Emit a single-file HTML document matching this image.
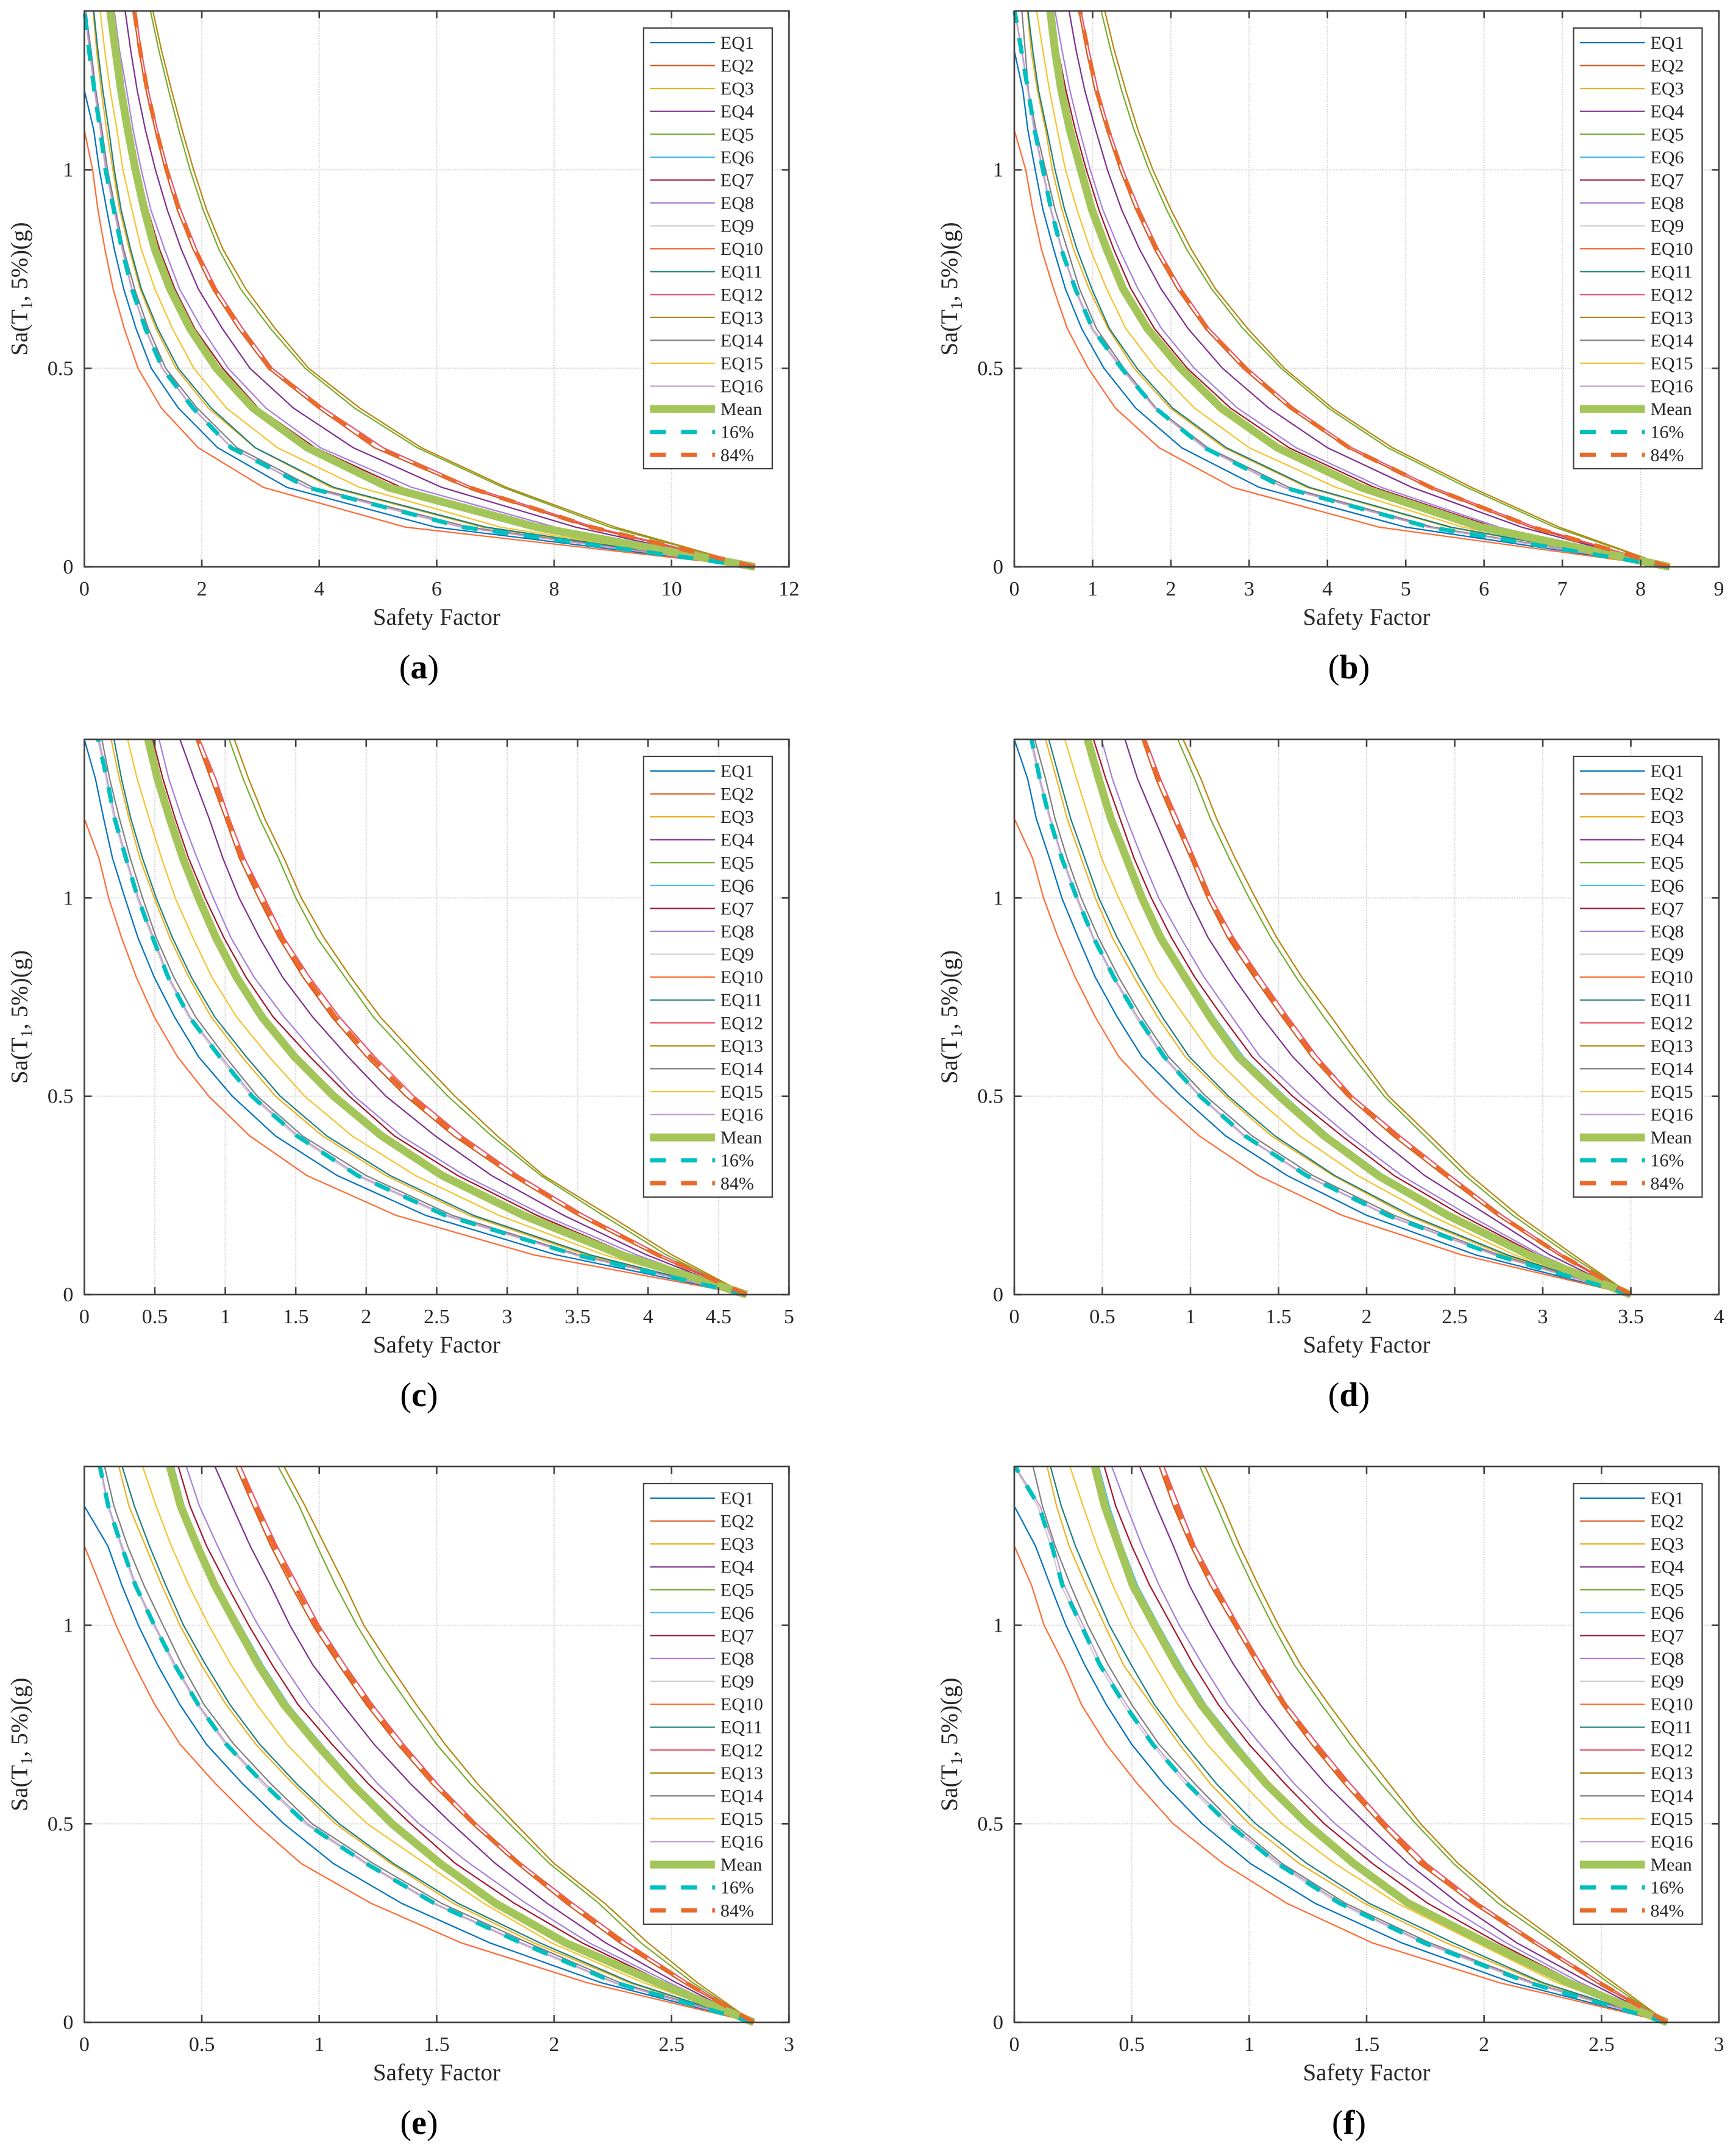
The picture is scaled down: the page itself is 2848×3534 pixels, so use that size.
<!DOCTYPE html>
<html lang="en">
<head>
<meta charset="utf-8">
<title>Safety factor curves</title>
<style>
html,body{margin:0;padding:0;background:#fff;width:2848px;height:3534px;overflow:hidden}
svg{display:block}
text{font-family:"Liberation Serif",serif;fill:#262626}
</style>
</head>
<body>
<svg id="figure" xmlns="http://www.w3.org/2000/svg" width="2848" height="3534" viewBox="0 0 2848 3534"></svg>
<script>
const saLevels = [0,0.1,0.2,0.3,0.4,0.5,0.6,0.7,0.8,0.9,1,1.1,1.2,1.3,1.4];
const seriesLabels = ['EQ1','EQ2','EQ3','EQ4','EQ5','EQ6','EQ7','EQ8','EQ9','EQ10','EQ11','EQ12','EQ13','EQ14','EQ15','EQ16','Mean','16%','84%'];
const saTicks = [0,0.5,1];
const xTicksA = [0,2,4,6,8,10,12];
const xTicksB = [0,1,2,3,4,5,6,7,8,9];
const xTicksC = [0,0.5,1,1.5,2,2.5,3,3.5,4,4.5,5];
const xTicksD = [0,0.5,1,1.5,2,2.5,3,3.5,4];
const xTicksE = [0,0.5,1,1.5,2,2.5,3];
const xTicksF = [0,0.5,1,1.5,2,2.5,3];

const panelASeries = [
[11.42,5.98,3.45,2.27,1.6,1.14,.88,.67,.51,.38,.255,.16,0,0,0],
[11.42,8.6,6.51,4.94,3.98,3.13,2.62,2.18,1.85,1.58,1.375,1.205,1.05,.93,.833],
[11.42,6.78,4.2,2.91,2.11,1.56,1.22,.95,.764,.6,.486,.38,.287,.21,.148],
[11.42,8.37,6.09,4.58,3.56,2.82,2.35,1.94,1.65,1.41,1.21,1.04,.9,.79,.694],
[11.42,8.95,7.13,5.67,4.6,3.76,3.17,2.66,2.29,2.02,1.8,1.61,1.435,1.27,1.125],
[11.42,7.6,5.12,3.78,2.87,2.27,1.82,1.48,1.22,1.04,.885,.755,.64,.545,.45],
[11.42,7.8,5.4,3.93,2.96,2.36,1.88,1.54,1.28,1.08,.92,.79,.67,.57,.475],
[11.42,8.02,5.58,4.02,3.09,2.45,2,1.62,1.366,1.13,.97,.83,.72,.6,.51],
[11.42,6.45,3.78,2.5,1.84,1.32,1.03,.8,.64,.5,.36,.27,.17,.085,.005],
[11.42,5.47,3.05,1.94,1.31,.915,.68,.49,.35,.23,.14,0,0,0,0],
[11.42,6.84,4.25,2.91,2.16,1.6,1.25,.97,.787,.625,.51,.417,.315,.23,.16],
[11.42,8.68,6.6,5.09,4.07,3.2,2.7,2.25,1.91,1.64,1.425,1.245,1.09,.97,.87],
[11.42,9.04,7.19,5.74,4.69,3.82,3.25,2.75,2.36,2.08,1.86,1.665,1.485,1.315,1.167],
[11.42,6.55,3.89,2.6,1.92,1.385,1.09,.856,.67,.53,.395,.3,.195,.115,.02],
[11.42,7.09,4.69,3.29,2.42,1.865,1.5,1.2,.97,.81,.657,.555,.44,.347,.27],
[11.42,6.42,3.8,2.51,1.85,1.33,1.04,.81,.65,.51,.37,.28,.176,.09,.01],
[11.42,7.7,5.18,3.8,2.87,2.25,1.8,1.46,1.2,1.02,.87,.74,.625,.532,.44],
[11.42,6.45,3.8,2.5,1.85,1.33,1.04,.81,.64,.5,.36,.27,.17,.08,.005],
[11.42,8.64,6.55,5,4.02,3.16,2.66,2.21,1.88,1.61,1.4,1.225,1.07,.95,.85]
];
const panelBSeries = [
[8.37,5,3.13,2.137,1.55,1.146,.86,.653,.503,.365,.267,.174,.11,0,0],
[8.37,6.59,5.29,4.26,3.51,2.92,2.44,2.08,1.79,1.55,1.35,1.18,1.03,.92,.826],
[8.37,5.55,3.74,2.68,1.99,1.53,1.2,.955,.757,.608,.486,.4,.295,.215,.167],
[8.37,6.48,5.08,4,3.25,2.66,2.22,1.875,1.6,1.37,1.19,1.04,.9,.79,.7],
[8.37,6.9,5.78,4.77,4.01,3.41,2.92,2.52,2.2,1.944,1.72,1.53,1.37,1.233,1.11],
[8.37,6,4.46,3.39,2.67,2.15,1.72,1.41,1.2,1.01,.87,.73,.62,.54,.47],
[8.37,6.13,4.6,3.51,2.76,2.21,1.79,1.49,1.27,1.08,.92,.78,.66,.56,.49],
[8.37,6.19,4.69,3.6,2.85,2.3,1.88,1.58,1.34,1.13,.97,.833,.71,.61,.52],
[8.37,5.28,3.43,2.42,1.79,1.36,.98,.77,.6,.46,.355,.25,.17,.09,.005],
[8.37,4.66,2.79,1.85,1.29,.945,.677,.503,.347,.236,.146,0,0,0,0],
[8.37,5.58,3.77,2.71,2.02,1.567,1.215,.99,.8,.642,.52,.417,.31,.236,.174],
[8.37,6.65,5.35,4.31,3.57,2.98,2.49,2.135,1.84,1.6,1.39,1.215,1.07,.955,.85],
[8.37,6.96,5.84,4.83,4.06,3.45,2.98,2.57,2.26,2,1.77,1.58,1.424,1.278,1.156],
[8.37,5.35,3.51,2.47,1.81,1.4,1.05,.833,.677,.52,.4,.278,.18,.139,.097],
[8.37,5.73,4.11,3,2.3,1.81,1.424,1.18,.97,.8,.653,.55,.45,.365,.285],
[8.37,5.29,3.45,2.44,1.8,1.377,1,.78,.608,.47,.365,.26,.18,.097,.007],
[8.37,5.96,4.43,3.36,2.64,2.125,1.7,1.39,1.18,.99,.85,.71,.6,.52,.46],
[8.37,5.3,3.44,2.43,1.8,1.37,1,.78,.6,.47,.365,.26,.175,.09,.005],
[8.37,6.62,5.32,4.28,3.54,2.95,2.46,2.11,1.815,1.575,1.37,1.2,1.05,.94,.84]
];
const panelCSeries = [
[4.7,3.35,2.42,1.795,1.356,1.05,.81,.64,.496,.38,.288,.2,.137,.079,0],
[4.7,4.05,3.5,3.03,2.62,2.28,2,1.755,1.552,1.378,1.234,1.1,1,.896,.793],
[4.7,3.56,2.73,2.14,1.69,1.356,1.117,.9,.741,.606,.496,.394,.317,.249,.19],
[4.7,3.99,3.4,2.89,2.49,2.14,1.87,1.62,1.407,1.243,1.098,.983,.886,.78,.678],
[4.7,4.13,3.68,3.24,2.89,2.58,2.31,2.05,1.85,1.65,1.5,1.378,1.243,1.127,1.027],
[4.7,3.83,3.14,2.57,2.14,1.8,1.52,1.29,1.1,.955,.83,.72,.625,.535,.465],
[4.7,3.87,3.21,2.65,2.2,1.88,1.6,1.34,1.147,.99,.857,.74,.645,.558,.485],
[4.7,3.92,3.26,2.7,2.25,1.916,1.66,1.417,1.205,1.04,.915,.8,.693,.6,.53],
[4.7,3.48,2.55,1.93,1.5,1.185,.955,.74,.59,.48,.375,.29,.21,.155,.095],
[4.7,3.19,2.21,1.58,1.174,.883,.66,.496,.369,.264,.172,.104,0,0,0],
[4.7,3.59,2.76,2.17,1.72,1.39,1.148,.925,.76,.625,.51,.413,.33,.264,.21],
[4.7,4.09,3.55,3.08,2.68,2.34,2.06,1.81,1.6,1.417,1.28,1.137,1.03,.934,.818],
[4.7,4.17,3.72,3.26,2.93,2.63,2.36,2.1,1.89,1.7,1.54,1.417,1.28,1.166,1.064],
[4.7,3.51,2.61,2,1.548,1.228,1,.79,.635,.51,.413,.326,.249,.18,.124],
[4.7,3.69,2.94,2.35,1.9,1.564,1.31,1.08,.905,.77,.645,.548,.46,.375,.307],
[4.7,3.49,2.57,1.95,1.516,1.2,.97,.75,.6,.49,.384,.297,.22,.162,.104],
[4.7,3.81,3.115,2.54,2.11,1.77,1.49,1.26,1.08,.934,.81,.7,.606,.52,.452],
[4.7,3.49,2.56,1.94,1.51,1.19,.96,.745,.595,.485,.38,.295,.215,.16,.098],
[4.7,4.07,3.52,3.05,2.65,2.31,2.03,1.78,1.575,1.397,1.257,1.118,1.015,.915,.805]
];
const panelDSeries = [
[3.5,2.62,2,1.55,1.2,.948,.725,.584,.46,.363,.27,.2,.125,.076,0],
[3.5,3.09,2.74,2.44,2.15,1.89,1.686,1.52,1.36,1.21,1.095,1,.9,.804,.725],
[3.5,2.78,2.23,1.81,1.46,1.2,.97,.813,.68,.557,.46,.38,.3,.24,.178],
[3.5,3.04,2.69,2.33,2.05,1.8,1.58,1.404,1.245,1.1,.99,.892,.795,.7,.628],
[3.5,3.15,2.83,2.56,2.33,2.1,1.924,1.757,1.6,1.457,1.333,1.22,1.113,1.025,.928],
[3.5,2.94,2.49,2.1,1.79,1.535,1.3,1.135,.99,.85,.74,.65,.56,.49,.425],
[3.5,2.97,2.54,2.156,1.86,1.58,1.35,1.183,1.025,.892,.778,.68,.6,.52,.45],
[3.5,2.99,2.58,2.2,1.9,1.63,1.395,1.236,1.078,.945,.82,.725,.637,.557,.495],
[3.5,2.72,2.11,1.65,1.3,1.05,.84,.69,.56,.445,.35,.27,.2,.14,.09],
[3.5,2.54,1.86,1.385,1.05,.8,.593,.46,.346,.249,.166,.104,0,0,0],
[3.5,2.8,2.25,1.82,1.48,1.216,.993,.84,.707,.584,.48,.4,.32,.257,.196],
[3.5,3.11,2.77,2.475,2.19,1.92,1.72,1.554,1.395,1.245,1.12,1.025,.928,.83,.746],
[3.5,3.175,2.86,2.59,2.36,2.125,1.96,1.8,1.633,1.49,1.369,1.254,1.148,1.06,.958],
[3.5,2.75,2.156,1.696,1.35,1.088,.875,.725,.593,.478,.38,.3,.231,.178,.116],
[3.5,2.84,2.36,1.95,1.62,1.36,1.13,.97,.813,.7,.593,.496,.425,.354,.287],
[3.5,2.73,2.12,1.66,1.31,1.057,.85,.7,.566,.45,.358,.275,.205,.146,.099],
[3.5,2.92,2.46,2.066,1.76,1.505,1.27,1.11,.97,.83,.725,.637,.548,.48,.416],
[3.5,2.73,2.12,1.66,1.31,1.055,.85,.7,.565,.45,.355,.27,.2,.145,.098],
[3.5,3.1,2.755,2.46,2.17,1.905,1.7,1.537,1.378,1.228,1.108,1.012,.914,.817,.735]
];
const panelESeries = [
[2.85,2.2,1.727,1.35,1.06,.85,.675,.52,.407,.312,.23,.16,.1,0,0],
[2.85,2.55,2.28,2.05,1.84,1.65,1.48,1.333,1.2,1.083,.973,.88,.793,.718,.645],
[2.85,2.32,1.915,1.57,1.305,1.07,.89,.73,.604,.498,.407,.33,.26,.19,.147],
[2.85,2.52,2.22,1.97,1.75,1.565,1.39,1.234,1.1,.973,.875,.793,.706,.63,.556],
[2.85,2.59,2.37,2.19,1.98,1.81,1.645,1.5,1.38,1.263,1.16,1.07,.99,.915,.825],
[2.85,2.45,2.07,1.77,1.53,1.33,1.16,1.01,.87,.76,.665,.57,.495,.425,.38],
[2.85,2.47,2.12,1.83,1.58,1.39,1.21,1.055,.91,.8,.7,.608,.52,.45,.4],
[2.85,2.49,2.15,1.88,1.64,1.425,1.25,1.1,.96,.846,.74,.648,.567,.49,.434],
[2.85,2.25,1.85,1.48,1.195,.94,.76,.6,.48,.38,.295,.215,.155,.1,.065],
[2.85,2.14,1.605,1.22,.923,.73,.56,.408,.3,.213,.135,.068,0,0,0],
[2.85,2.33,1.94,1.59,1.316,1.085,.905,.747,.62,.517,.422,.347,.277,.213,.161],
[2.85,2.57,2.31,2.08,1.86,1.67,1.505,1.36,1.228,1.11,1,.91,.82,.741,.666],
[2.85,2.61,2.4,2.215,2,1.835,1.675,1.536,1.414,1.3,1.19,1.11,1.025,.94,.85],
[2.85,2.28,1.89,1.52,1.23,.97,.795,.637,.51,.416,.335,.254,.184,.126,.086],
[2.85,2.38,1.99,1.7,1.45,1.205,1.025,.863,.735,.625,.53,.445,.37,.306,.248],
[2.85,2.26,1.86,1.49,1.205,.95,.77,.608,.486,.387,.3,.22,.16,.103,.068],
[2.85,2.44,2.05,1.75,1.515,1.31,1.14,.99,.85,.741,.648,.556,.48,.41,.364],
[2.85,2.26,1.86,1.49,1.2,.945,.765,.605,.485,.385,.298,.218,.158,.102,.066],
[2.85,2.56,2.3,2.065,1.85,1.66,1.49,1.345,1.214,1.097,.987,.895,.807,.73,.655]
];
const panelFSeries = [
[2.78,2.12,1.65,1.28,1.005,.8,.637,.5,.392,.3,.22,.154,.09,0,0],
[2.78,2.48,2.21,1.95,1.723,1.558,1.405,1.266,1.14,1.034,.935,.835,.75,.677,.617],
[2.78,2.24,1.84,1.49,1.213,1,.836,.703,.584,.465,.385,.306,.233,.18,.14],
[2.78,2.45,2.14,1.89,1.677,1.498,1.326,1.18,1.048,.935,.836,.746,.677,.604,.534],
[2.78,2.53,2.3,2.06,1.87,1.71,1.564,1.43,1.31,1.193,1.1,1.015,.935,.862,.79],
[2.78,2.34,2.03,1.7,1.465,1.265,1.09,.95,.815,.71,.615,.525,.46,.405,.36],
[2.78,2.39,2.06,1.76,1.525,1.32,1.154,1,.869,.763,.67,.577,.5,.432,.383],
[2.78,2.41,2.095,1.82,1.577,1.366,1.193,1.048,.909,.803,.703,.617,.544,.478,.415],
[2.78,2.19,1.74,1.38,1.115,.905,.73,.585,.465,.36,.28,.2,.155,.1,0],
[2.78,2.065,1.525,1.16,.889,.677,.525,.392,.286,.213,.127,.074,0,0,0],
[2.78,2.25,1.87,1.51,1.246,1.028,.862,.723,.597,.498,.405,.332,.26,.2,.154],
[2.78,2.5,2.23,1.975,1.756,1.584,1.432,1.293,1.16,1.054,.955,.86,.77,.703,.637],
[2.78,2.55,2.32,2.09,1.89,1.73,1.597,1.465,1.34,1.22,1.125,1.04,.96,.889,.812],
[2.78,2.21,1.77,1.41,1.14,.935,.77,.617,.5,.4,.313,.24,.174,.12,.08],
[2.78,2.31,1.97,1.63,1.365,1.14,.975,.822,.697,.597,.498,.42,.352,.293,.237],
[2.78,2.2,1.75,1.392,1.127,.916,.743,.597,.478,.372,.293,.213,.167,.11,.004],
[2.78,2.36,2.01,1.677,1.445,1.246,1.074,.928,.796,.69,.597,.505,.445,.385,.343],
[2.78,2.19,1.745,1.385,1.12,.91,.738,.59,.47,.365,.285,.205,.16,.105,.004],
[2.78,2.49,2.22,1.96,1.74,1.57,1.418,1.28,1.15,1.044,.945,.848,.76,.69,.627]
];

const NS = 'http://www.w3.org/2000/svg';
const figure = document.getElementById('figure');
const AXIS_COLOR = '#404040';
const Y_MAX = 1.4;

function seriesStyle(i) {
  const colors = ['#0072BD','#D95319','#EDB120','#7E2F8E','#77AC30','#4DBEEE','#A2142F','#A57FDD','#CCCCCC','#FF6B35','#1F7F7F','#F0506A','#B8860B','#7F7F7F','#F5C32E','#C09BD0','#A4C55A','#00BFBF','#EA6A2B'];
  if (i === 16) return {stroke: colors[i], width: 13, dash: ''};
  if (i > 16) return {stroke: colors[i], width: 7, dash: '26 25'};
  return {stroke: colors[i], width: 2.2, dash: ''};
}

function svgEl(tag, attrs, parent) {
  const el = document.createElementNS(NS, tag);
  for (const k in attrs) el.setAttribute(k, attrs[k]);
  parent.appendChild(el);
  return el;
}

function slug(label) {
  return label.toLowerCase().replace('%', '-percent');
}

function drawPanel(id, box, xMax, xTicks, series, caption) {
  const g = svgEl('g', {}, figure);
  
  
  const sx = v => box.left + v / xMax * box.width;
  const sy = v => box.top + box.height - v / Y_MAX * box.height;
  const bottom = box.top + box.height;
  const right = box.left + box.width;

  const grid = svgEl('g', {stroke: '#d6d6d6', 'stroke-width': 2, 'stroke-dasharray': '2 2', fill: 'none'}, g);
  
  
  xTicks.forEach(t => {
    const gl = svgEl('line', {x1: sx(t), x2: sx(t), y1: box.top, y2: bottom}, grid);
    
    
  });
  saTicks.forEach(t => {
    const gl = svgEl('line', {x1: box.left, x2: right, y1: sy(t), y2: sy(t)}, grid);
    
    
  });

  series.forEach((vals, i) => {
    const st = seriesStyle(i);
    const d = vals.map((x, j) => (j ? 'L' : 'M') + sx(x).toFixed(1) + ' ' + sy(saLevels[j]).toFixed(1)).join('');
    const p = svgEl('path', {d: d, fill: 'none', stroke: st.stroke, 'stroke-width': st.width, 'stroke-linejoin': 'round'}, g);
    if (st.dash) p.setAttribute('stroke-dasharray', st.dash);
    
    
  });

  const frame = svgEl('rect', {x: box.left, y: box.top, width: box.width, height: box.height, fill: 'none', stroke: AXIS_COLOR, 'stroke-width': 2.6}, g);
  
  

  xTicks.forEach(t => {
    const b = svgEl('line', {x1: sx(t), x2: sx(t), y1: bottom, y2: bottom - 12, stroke: AXIS_COLOR, 'stroke-width': 2.6}, g);
    
    
    const u = svgEl('line', {x1: sx(t), x2: sx(t), y1: box.top, y2: box.top + 12, stroke: AXIS_COLOR, 'stroke-width': 2.6}, g);
    
    
    const lab = svgEl('text', {x: sx(t), y: bottom + 47, 'text-anchor': 'middle', 'font-size': 34}, g);
    lab.textContent = String(t);
    
    
  });
  saTicks.forEach(t => {
    const l = svgEl('line', {x1: box.left, x2: box.left + 12, y1: sy(t), y2: sy(t), stroke: AXIS_COLOR, 'stroke-width': 2.6}, g);
    
    
    const r = svgEl('line', {x1: right, x2: right - 12, y1: sy(t), y2: sy(t), stroke: AXIS_COLOR, 'stroke-width': 2.6}, g);
    
    
    const lab = svgEl('text', {x: box.left - 18, y: sy(t) + 11, 'text-anchor': 'end', 'font-size': 34}, g);
    lab.textContent = String(t);
    
    
  });

  const xTitle = svgEl('text', {x: box.left + box.width / 2, y: bottom + 95, 'text-anchor': 'middle', 'font-size': 39}, g);
  xTitle.textContent = 'Safety Factor';
  
  

  const yx = box.left - 94;
  const yy = box.top + box.height / 2;
  const yTitle = svgEl('text', {x: yx, y: yy, 'text-anchor': 'middle', 'font-size': 39, transform: 'rotate(-90 ' + yx + ' ' + yy + ')'}, g);
  
  
  yTitle.appendChild(document.createTextNode('Sa(T'));
  const sub = svgEl('tspan', {'font-size': 27, dy: 8}, yTitle);
  sub.textContent = '1';
  const rest = svgEl('tspan', {dy: -8}, yTitle);
  rest.textContent = ', 5%)(g)';

  const legX = right - 238.5;
  const legY = box.top + 28;
  const leg = svgEl('g', {}, g);
  
  
  const legBox = svgEl('rect', {x: legX, y: legY, width: 211, height: 723, fill: '#fff', stroke: AXIS_COLOR, 'stroke-width': 2.2}, leg);
  
  
  seriesLabels.forEach((name, i) => {
    const st = seriesStyle(i);
    const ey = legY + 24 + i * 37.57;
    const sample = svgEl('line', {x1: legX + 10.5, x2: legX + 117, y1: ey, y2: ey, stroke: st.stroke, 'stroke-width': st.width}, leg);
    if (st.dash) sample.setAttribute('stroke-dasharray', st.dash);
    
    
    const t = svgEl('text', {x: legX + 126, y: ey + 10, 'font-size': 30}, leg);
    t.textContent = name;
    
    
  });

  const cap = svgEl('text', {x: box.left + 549, y: bottom + 183, 'text-anchor': 'middle', 'font-size': 56, style: 'fill:#000'}, g);
  
  
  cap.appendChild(document.createTextNode('('));
  const capLetter = svgEl('tspan', {'font-weight': 'bold'}, cap);
  capLetter.textContent = caption;
  cap.appendChild(document.createTextNode(')'));
}

const col1 = 138.4, col2 = 1664, colW = 1156;
drawPanel('a', {left: col1, top: 18, width: colW, height: 912}, 12, xTicksA, panelASeries, 'a');
drawPanel('b', {left: col2, top: 18, width: colW, height: 912}, 9, xTicksB, panelBSeries, 'b');
drawPanel('c', {left: col1, top: 1213, width: colW, height: 911}, 5, xTicksC, panelCSeries, 'c');
drawPanel('d', {left: col2, top: 1213, width: colW, height: 911}, 4, xTicksD, panelDSeries, 'd');
drawPanel('e', {left: col1, top: 2406, width: colW, height: 912}, 3, xTicksE, panelESeries, 'e');
drawPanel('f', {left: col2, top: 2406, width: colW, height: 912}, 3, xTicksF, panelFSeries, 'f');
</script>
</body>
</html>
